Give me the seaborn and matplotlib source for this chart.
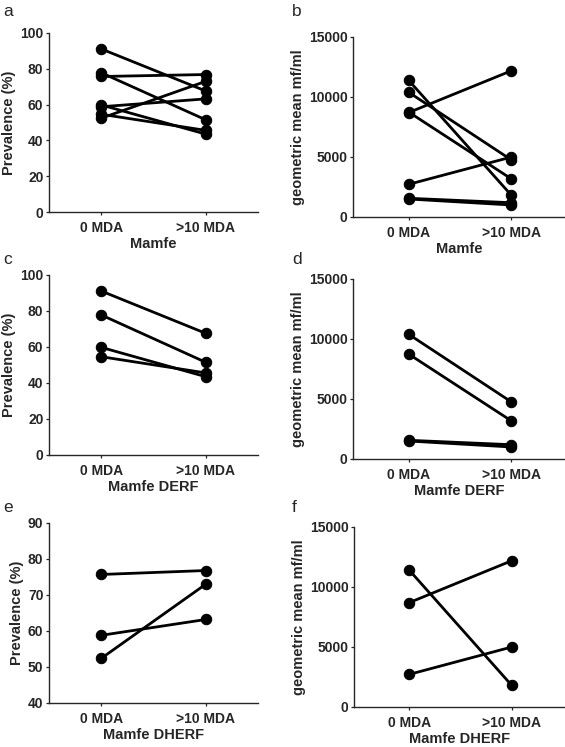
import matplotlib
matplotlib.use('Agg')
import matplotlib.pyplot as plt
import seaborn as sns
import numpy as np
import pandas as pd

# values
times = ['0 MDA', '>10 MDA']
derf_prev_0 = [91.1, 77.8, 59.8, 54.6]
derf_prev_10 = [67.6, 51.5, 43.5, 45.6]
dherf_prev_0 = [75.7, 58.8, 52.4]
dherf_prev_10 = [76.8, 63.2, 73.0]
derf_gm_0 = [10400, 8750, 1560, 1500]
derf_gm_10 = [4750, 3170, 1190, 1000]
dherf_gm_0 = [11400, 8700, 2720]
dherf_gm_10 = [1800, 12190, 5000]


def make_df(v0, v10, prefix):
    rows = []
    for i, (a, b) in enumerate(zip(v0, v10)):
        rows.append({'site': prefix + str(i), 'time': times[0], 'value': a})
        rows.append({'site': prefix + str(i), 'time': times[1], 'value': b})
    return pd.DataFrame(rows)


prev_derf = make_df(derf_prev_0, derf_prev_10, 'd')
prev_dherf = make_df(dherf_prev_0, dherf_prev_10, 'h')
gm_derf = make_df(derf_gm_0, derf_gm_10, 'd')
gm_dherf = make_df(dherf_gm_0, dherf_gm_10, 'h')
prev_all = pd.concat([prev_derf, prev_dherf])
gm_all = pd.concat([gm_derf, gm_dherf])

sns.set_style('ticks')
plt.rcParams['font.family'] = ['Liberation Sans', 'DejaVu Sans']
plt.rcParams['font.weight'] = 'bold'
plt.rcParams['axes.labelweight'] = 'bold'

W, H = 565, 747
fig = plt.figure(figsize=(W / 100, H / 100), dpi=100)


def box(left, right, top, bottom):
    return [left / W, (H - bottom) / H, (right - left) / W, (bottom - top) / H]


left_x = (-0.5, 1.5)
right_x = (-0.54, 1.52)
panels = [
    ('a', prev_all, box(49, 258, 33, 212), left_x, 'Prevalence (%)', 'Mamfe', (0, 100), 20, (3, 12)),
    ('b', gm_all, box(353, 565, 37, 217), right_x, 'geometric mean mf/ml', 'Mamfe', (0, 15000), 5000, (292, 12)),
    ('c', prev_derf, box(49, 258, 275, 455), left_x, 'Prevalence (%)', 'Mamfe DERF', (0, 100), 20, (3, 260)),
    ('d', gm_derf, box(353, 565, 279, 459), right_x, 'geometric mean mf/ml', 'Mamfe DERF', (0, 15000), 5000, (292, 260)),
    ('e', prev_dherf, box(49, 258, 523, 703), left_x, 'Prevalence (%)', 'Mamfe DHERF', (40, 90), 10, (3, 508)),
    ('f', gm_dherf, box(354, 565, 527, 707), right_x, 'geometric mean mf/ml', 'Mamfe DHERF', (0, 15000), 5000, (292, 508)),
]

for letter, df, pos, xlim, ylab, xlab, ylim, step, lpos in panels:
    ax = fig.add_axes(pos)
    sns.lineplot(data=df, x='time', y='value', units='site', estimator=None,
                 color='black', marker='o', markersize=7.5, linewidth=2,
                 markeredgecolor='black', sort=False, ax=ax, legend=False)
    ax.set_xlim(*xlim)
    ax.set_ylim(*ylim)
    ax.set_yticks(np.arange(ylim[0], ylim[1] + 1, step))
    ax.set_xlabel(xlab, fontsize=10.5, fontweight='bold', labelpad=1.5)
    ax.set_ylabel(ylab, fontsize=10.5, fontweight='bold', labelpad=3)
    ax.tick_params(labelsize=10, width=0.9, length=2.5, pad=1.5, direction='out')
    ax.tick_params(axis='x', pad=4)
    for lbl in ax.get_xticklabels() + ax.get_yticklabels():
        lbl.set_fontweight('bold')
    sns.despine(ax=ax)
    for s in ['left', 'bottom']:
        ax.spines[s].set_linewidth(1.0)
    fig.text(lpos[0] / W, 1 - lpos[1] / H, letter, fontsize=12.5,
             fontweight='normal', va='center', ha='left')

plt.savefig('out.png', dpi=100)
